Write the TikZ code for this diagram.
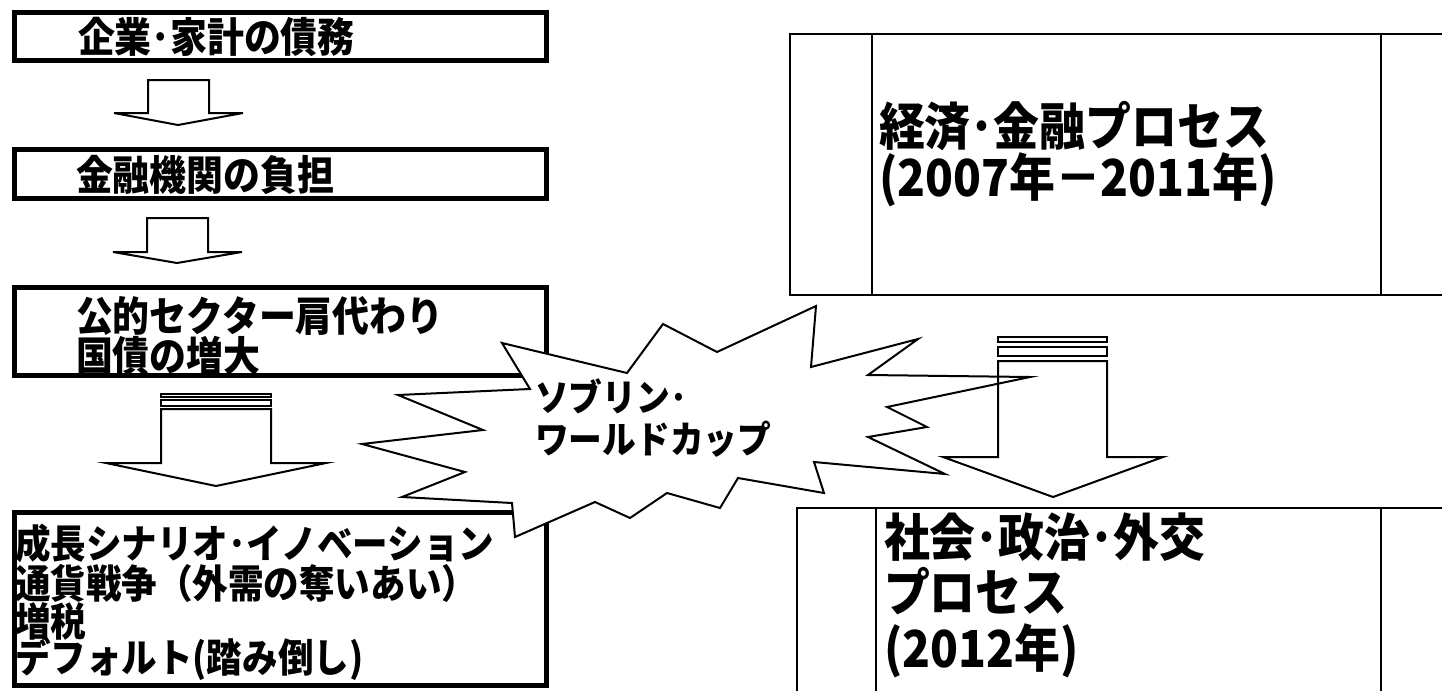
\documentclass[tikz,border=0pt]{standalone}
\usepackage{fontspec}
\setmainfont{Noto Sans CJK JP}
\newfontfamily\jpc{Noto Sans CJK JP}[FakeStretch=0.9]
\begin{document}
\begin{tikzpicture}[x=1pt,y=-1pt,
  leftbox/.style={draw=black, line width=5pt, fill=white, inner sep=0pt, outer sep=0pt, anchor=north west},
  txt/.style={inner sep=0pt, outer sep=0pt, anchor=base west, align=left},
  lbig/.style={txt, font=\jpc\fontsize{41}{41}\selectfont\bfseries},
  lsmall/.style={txt, font=\jpc\fontsize{39.5}{39.5}\selectfont\bfseries},
  rbig/.style={txt, font=\jpc\fontsize{51}{51}\selectfont\bfseries},
  burst/.style={txt, font=\jpc\fontsize{37.5}{37.5}\selectfont\bfseries},
  thinline/.style={draw=black, line width=2.5pt},
  arrowline/.style={draw=black, line width=2pt, line join=miter},
]
\useasboundingbox (0,0) rectangle (1442,691);
\fill[white] (0,0) rectangle (1442,691);

% ---- left column boxes
\node[leftbox, minimum width=531.5pt, minimum height=47.5pt] (b1) at (14.5,12.5) {};
\node[lbig] (t1) at (78,52) {企業･家計の債務};

\node[leftbox, minimum width=531.5pt, minimum height=49pt] (b2) at (14.5,149.5) {};
\node[lbig] (t2) at (76,190) {金融機関の負担};

\node[leftbox, minimum width=531.5pt, minimum height=88pt] (b3) at (14.5,287.5) {};
\node[lbig] (t3a) at (76,331) {公的セクター肩代わり};
\node[lbig] (t3b) at (76,371) {国債の増大};

\node[leftbox, minimum width=531.5pt, minimum height=173pt] (b4) at (14.5,512.5) {};
\node[lsmall] (t4a) at (15,558) {成長シナリオ･イノベーション};
\node[lsmall] (t4b) at (15,598) {通貨戦争（外需の奪いあい）};
\node[lsmall] (t4c) at (15,636) {増税};
\node[lsmall] (t4d) at (15,672) {デフォルト(踏み倒し)};

% ---- small arrows
\draw[arrowline, fill=white] (148,80) -- (209,80) -- (209,113) -- (243,113) -- (178,125) -- (114,113) -- (148,113) -- cycle;
\draw[arrowline, fill=white] (147,218) -- (208,218) -- (208,252) -- (242,252) -- (177,263) -- (113,252) -- (147,252) -- cycle;

% ---- big left striped arrow
\draw[arrowline, fill=white] (161,394) rectangle (271,397);
\draw[arrowline, fill=white] (161,400) rectangle (271,406);
\draw[arrowline, fill=white] (161,409) -- (271,409) -- (271,463) -- (326,463) -- (216,486) -- (106,463) -- (161,463) -- cycle;

% ---- right boxes
\draw[thinline] (1442,34) -- (790,34) -- (790,295) -- (1442,295);
\draw[thinline] (872,34) -- (872,295);
\draw[thinline] (1381,34) -- (1381,295);
\node[rbig] (r1a) at (879,145) {経済･金融プロセス};
\node[rbig] (r1b) at (879,196) {(2007年－2011年)};

\draw[thinline] (797,691) -- (797,508) -- (1442,508);
\draw[thinline] (876,508) -- (876,691);
\draw[thinline] (1381,508) -- (1381,691);
\node[rbig] (r2a) at (884,556) {社会･政治･外交};
\node[rbig] (r2b) at (884,611) {プロセス};
\node[rbig] (r2c) at (884,667) {(2012年)};

% ---- starburst
\draw[arrowline, fill=white]
  (502,343) -- (627,373) -- (663,324) -- (717,352) -- (816,306) -- (811,367)
  -- (918,339) -- (868,375) -- (1030,377) -- (887,407) -- (927,427) -- (868,437)
  -- (945,474) -- (814,462) -- (824,493) -- (738,478) -- (720,508) -- (667,493)
  -- (630,518) -- (595,502) -- (515,537) -- (512,503) -- (402,497) -- (465,472)
  -- (362,444) -- (483,430) -- (398,395) -- (530,389) -- cycle;
\node[burst] (s1) at (535,411) {ソブリン･};
\node[burst] (s2) at (535,453) {ワールドカップ};

% ---- right striped arrow (outline only, drawn over the burst)
\draw[arrowline] (998,337) rectangle (1107,342);
\draw[arrowline] (998,347) rectangle (1107,356);
\draw[arrowline] (998,361) -- (1107,361) -- (1107,457) -- (1163,457) -- (1053,497) -- (943,457) -- (998,457) -- cycle;
\end{tikzpicture}
\end{document}
